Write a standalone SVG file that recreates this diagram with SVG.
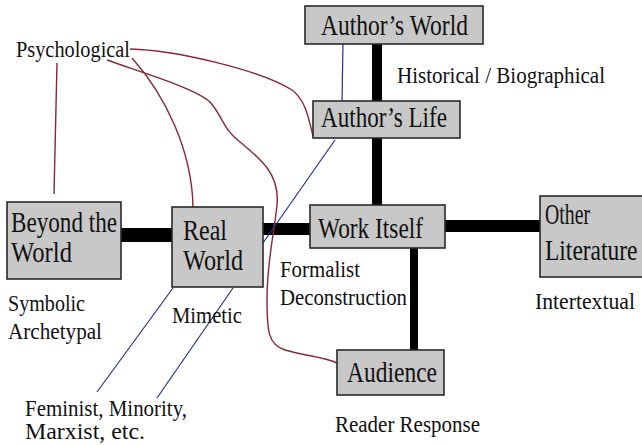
<svg xmlns="http://www.w3.org/2000/svg" width="642" height="445" viewBox="0 0 642 445">
<defs>
<style>
.box{fill:#c8c8c8;stroke:#2a2a2a;stroke-width:1.6}
.lbl{font-family:"Liberation Serif","Times New Roman",serif;font-size:29px;fill:#111}
.ann{font-family:"Liberation Serif","Times New Roman",serif;font-size:23px;fill:#111}
.bar{stroke:#000;fill:none}
.red{stroke:#8a2634;stroke-width:1.4;fill:none}
.blue{stroke:#2b2f8c;stroke-width:1.2;fill:none}
</style>
</defs>
<rect width="642" height="445" fill="#fff"/>
<g id="connectors">
<line class="bar" x1="377" y1="44" x2="377" y2="101" stroke-width="10"/>
<line class="bar" x1="377" y1="138" x2="377" y2="205" stroke-width="10"/>
<line class="bar" x1="121" y1="235" x2="172" y2="235" stroke-width="14"/>
<line class="bar" x1="263" y1="229" x2="310" y2="229" stroke-width="12"/>
<line class="bar" x1="445" y1="226" x2="540" y2="226" stroke-width="12"/>
<line class="bar" x1="414" y1="248" x2="414" y2="350" stroke-width="8"/>
<path class="red" d="M57,63 L54,194"/>
<path class="red" d="M130,49 C175,50 260,70 292,90 C305,100 308,115 313,136"/>
<path class="red" d="M132,58 C165,95 192,150 193,207"/>
<path class="red" d="M107,60 C140,72 195,88 210,102 C222,115 222,128 240,142 C262,160 280,175 277,205 C274,235 267,260 267,300 C267,330 268,345 285,350 C305,356 325,357 337,363"/>
<path class="blue" d="M343,42 L342,103"/>
<path class="blue" d="M335,140 L263,243"/>
<path class="blue" d="M173,288 L97,392"/>
<path class="blue" d="M233,288 L157,398"/>
</g>
<g id="authors-world">
<rect class="box" x="305" y="6" width="178" height="38"/>
<text class="lbl" x="321" y="35" textLength="147" lengthAdjust="spacingAndGlyphs">Author’s World</text>
</g>
<g id="authors-life">
<rect class="box" x="313" y="101" width="147" height="37"/>
<text class="lbl" x="321" y="127" textLength="126" lengthAdjust="spacingAndGlyphs">Author’s Life</text>
</g>
<g id="beyond-the-world">
<rect class="box" x="7" y="202" width="114" height="77"/>
<text class="lbl" x="11" y="232" textLength="106" lengthAdjust="spacingAndGlyphs">Beyond the</text>
<text class="lbl" x="11" y="262" textLength="61" lengthAdjust="spacingAndGlyphs">World</text>
</g>
<g id="real-world">
<rect class="box" x="172" y="207" width="91" height="80"/>
<text class="lbl" x="183" y="240" textLength="44" lengthAdjust="spacingAndGlyphs">Real</text>
<text class="lbl" x="183" y="270" textLength="60" lengthAdjust="spacingAndGlyphs">World</text>
</g>
<g id="work-itself">
<rect class="box" x="310" y="205" width="135" height="43"/>
<text class="lbl" x="318" y="238" textLength="105" lengthAdjust="spacingAndGlyphs">Work Itself</text>
</g>
<g id="other-literature">
<rect class="box" x="540" y="196" width="106" height="81"/>
<text class="lbl" x="545" y="224" textLength="45" lengthAdjust="spacingAndGlyphs">Other</text>
<text class="lbl" transform="translate(545,260) scale(0.81,1)">Literature</text>
</g>
<g id="audience">
<rect class="box" x="337" y="350" width="107" height="45"/>
<text class="lbl" x="347" y="382" textLength="90" lengthAdjust="spacingAndGlyphs">Audience</text>
</g>
<g id="labels">
<text class="ann" x="16" y="57" textLength="114" lengthAdjust="spacingAndGlyphs">Psychological</text>
<text class="ann" x="397" y="83" textLength="208" lengthAdjust="spacingAndGlyphs">Historical / Biographical</text>
<text class="ann" x="280" y="277" textLength="80" lengthAdjust="spacingAndGlyphs">Formalist</text>
<text class="ann" x="280" y="305" textLength="127" lengthAdjust="spacingAndGlyphs">Deconstruction</text>
<text class="ann" x="535" y="309" textLength="100" lengthAdjust="spacingAndGlyphs">Intertextual</text>
<text class="ann" x="8" y="311" textLength="77" lengthAdjust="spacingAndGlyphs">Symbolic</text>
<text class="ann" x="8" y="339" textLength="94" lengthAdjust="spacingAndGlyphs">Archetypal</text>
<text class="ann" x="172" y="323" textLength="70" lengthAdjust="spacingAndGlyphs">Mimetic</text>
<text class="ann" x="25" y="416" textLength="162" lengthAdjust="spacingAndGlyphs">Feminist, Minority,</text>
<text class="ann" x="25" y="439" textLength="120" lengthAdjust="spacingAndGlyphs">Marxist, etc.</text>
<text class="ann" x="335" y="432" textLength="145" lengthAdjust="spacingAndGlyphs">Reader Response</text>
</g>
</svg>
